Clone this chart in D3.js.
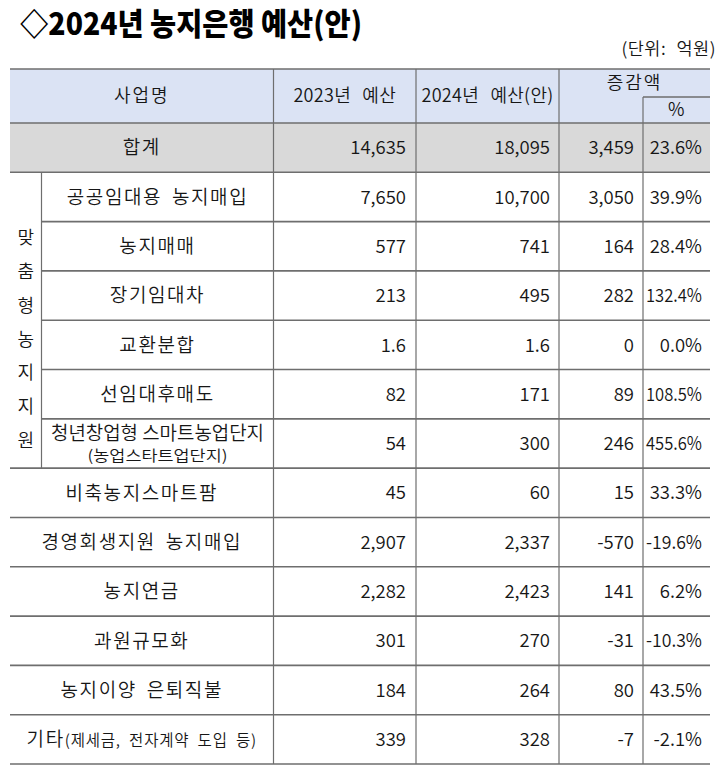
<!DOCTYPE html>
<html>
<head>
<meta charset="utf-8">
<script src="https://cdn.jsdelivr.net/npm/d3@7"></script>
<style>
  body { margin: 0; background: #fff; }
  svg { display: block; font-family: "Noto Sans CJK KR", "Noto Sans", sans-serif; }
</style>
</head>
<body>
<svg id="chart" width="720" height="778"></svg>
<script>
// table data
const title = "◇2024년 농지은행 예산(안)";
const unitLabel = "(단위: 억원)";
const headers = ["사업명", "2023년 예산", "2024년 예산(안)", "증감액", "%"];
const groupLabel = "맞춤형농지지원";

const names = ["합계", "공공임대용 농지매입", "농지매매", "장기임대차", "교환분합", "선임대후매도",
  "청년창업형 스마트농업단지", "비축농지스마트팜", "경영회생지원 농지매입", "농지연금",
  "과원규모화", "농지이양 은퇴직불", "기타"];
const nameNotes = ["", "", "", "", "", "", "(농업스타트업단지)", "", "", "", "", "", "(제세금, 전자계약 도입 등)"];
const inGroup = [false, true, true, true, true, true, true, false, false, false, false, false, false];

const budget2023 = [14635, 7650, 577, 213, 1.6, 82, 54, 45, 2907, 2282, 301, 184, 339];
const budget2024 = [18095, 10700, 741, 495, 1.6, 171, 300, 60, 2337, 2423, 270, 264, 328];
const change = [3459, 3050, 164, 282, 0, 89, 246, 15, -570, 141, -31, 80, -7];
const changePct = [23.6, 39.9, 28.4, 132.4, 0.0, 108.5, 455.6, 33.3, -19.6, 6.2, -10.3, 43.5, -2.1];

const svg = d3.select("#chart");
const ink = "#161616";
const lineColor = "#6e6e6e";
const light = 350;

const loc = d3.formatLocale({decimal: ".", thousands: ",", grouping: [3], currency: ["", ""], minus: "-"});
const numFmt = v => Number.isInteger(v) ? loc.format(",")(v) : loc.format(",.1f")(v);
const pctFmt = v => loc.format(".1f")(v) + "%";

// column edges and row bands
const col = d3.scaleOrdinal()
  .domain(["left", "group", "name", "y2023", "y2024", "chg", "right"])
  .range([10, 41.5, 273.5, 416, 559, 643, 710]);
const headTop = 69, headBottom = 123, pctTop = 97;
const y = d3.scaleBand()
  .domain(d3.range(names.length))
  .range([headBottom, 764]);
const bottom = y.range()[1];

// title
svg.append("text")
  .attr("x", 20).attr("y", 35)
  .attr("font-size", 31).attr("font-weight", 900)
  .attr("textLength", 342).attr("lengthAdjust", "spacingAndGlyphs")
  .attr("fill", "#000")
  .text(title);

svg.append("text")
  .attr("x", 716).attr("y", 55)
  .attr("text-anchor", "end")
  .attr("font-size", 17.5).attr("font-weight", light)
  .attr("word-spacing", 6).attr("letter-spacing", 0.5)
  .attr("fill", ink)
  .text(unitLabel);

// fills
svg.append("rect")
  .attr("x", col("left")).attr("y", headTop)
  .attr("width", col("right") - col("left")).attr("height", headBottom - headTop)
  .attr("fill", "#dbe3f4");
svg.append("rect")
  .attr("x", col("left")).attr("y", y(0))
  .attr("width", col("right") - col("left")).attr("height", y.bandwidth())
  .attr("fill", "#d9d9d9");

// horizontal rules
const hLines = [{x1: col("left"), y: headTop}, {x1: col("left"), y: headBottom}, {x1: col("chg"), y: pctTop}];
names.forEach((n, i) => {
  const inner = inGroup[i] && inGroup[i + 1];
  hLines.push({x1: inner ? col("group") : col("left"), y: y(i) + y.bandwidth()});
});
svg.append("g").selectAll("line")
  .data(hLines)
  .join("line")
  .attr("x1", d => d.x1).attr("x2", col("right"))
  .attr("y1", d => d.y).attr("y2", d => d.y)
  .attr("stroke", lineColor).attr("stroke-width", 1.6);

// vertical rules
const firstG = inGroup.indexOf(true), lastG = inGroup.lastIndexOf(true);
const vLines = [
  {x: col("name"), y1: headTop, y2: bottom},
  {x: col("y2023"), y1: headTop, y2: bottom},
  {x: col("y2024"), y1: headTop, y2: bottom},
  {x: col("chg"), y1: pctTop, y2: bottom},
  {x: col("group"), y1: y(firstG), y2: y(lastG) + y.bandwidth()}
];
svg.append("g").selectAll("line")
  .data(vLines)
  .join("line")
  .attr("x1", d => d.x).attr("x2", d => d.x)
  .attr("y1", d => d.y1).attr("y2", d => d.y2)
  .attr("stroke", lineColor).attr("stroke-width", 1.2);

// header text
const headMid = (headTop + headBottom) / 2;
const headPos = [
  {x: (col("left") + col("name")) / 2, y: headMid},
  {x: (col("name") + col("y2023")) / 2, y: headMid},
  {x: (col("y2023") + col("y2024")) / 2, y: headMid},
  {x: (col("y2024") + col("right")) / 2, y: (headTop + pctTop) / 2},
  {x: (col("chg") + col("right")) / 2, y: (pctTop + headBottom) / 2}
];
svg.append("g").selectAll("text")
  .data(headers)
  .join("text")
  .attr("x", (d, i) => headPos[i].x)
  .attr("y", (d, i) => headPos[i].y)
  .attr("dy", "0.36em")
  .attr("text-anchor", "middle")
  .attr("font-size", 18).attr("font-weight", light)
  .attr("letter-spacing", (d, i) => i === 0 || i === 3 ? 2 : 0.3)
  .attr("word-spacing", 7)
  .attr("fill", ink)
  .text(d => d);

// vertical group label
const gTop = y(firstG) + 65, gBottom = y(lastG) + 22;
const chars = Array.from(groupLabel);
const gy = d3.scalePoint().domain(d3.range(chars.length)).range([gTop, gBottom]);
svg.append("g").selectAll("text")
  .data(chars)
  .join("text")
  .attr("x", (col("left") + col("group")) / 2)
  .attr("y", (d, i) => gy(i))
  .attr("dy", "0.36em")
  .attr("text-anchor", "middle")
  .attr("font-size", 18).attr("font-weight", light)
  .attr("fill", ink)
  .text(d => d);

// row names
const rows = svg.append("g").selectAll("g")
  .data(names)
  .join("g")
  .attr("transform", (d, i) => `translate(0,${y(i) + y.bandwidth() / 2})`);

rows.each(function(d, i) {
  const g = d3.select(this);
  const cx = inGroup[i] ? (col("group") + col("name")) / 2 : (col("left") + col("name")) / 2;
  const note = nameNotes[i];
  if (note && inGroup[i]) {
    // two-line cell
    g.append("text")
      .attr("x", cx).attr("y", -10).attr("dy", "0.36em")
      .attr("text-anchor", "middle").attr("font-size", 19).attr("font-weight", light)
      .attr("textLength", 213).attr("lengthAdjust", "spacingAndGlyphs")
      .attr("fill", ink).text(d);
    g.append("text")
      .attr("x", cx).attr("y", 12).attr("dy", "0.36em")
      .attr("text-anchor", "middle").attr("font-size", 15).attr("font-weight", light)
      .attr("textLength", 140).attr("lengthAdjust", "spacingAndGlyphs")
      .attr("fill", ink).text(note);
  } else {
    const t = g.append("text")
      .attr("x", cx).attr("y", 0).attr("dy", "0.36em")
      .attr("text-anchor", "middle").attr("font-size", 19).attr("font-weight", light)
      .attr("letter-spacing", 1.6).attr("word-spacing", 4)
      .attr("fill", ink);
    t.append("tspan").text(d);
    if (note) t.append("tspan").attr("font-size", 15.5).attr("letter-spacing", 0.8).attr("word-spacing", 4).text(note);
  }
});

// numeric columns
const numCols = [
  {vals: budget2023, fmt: numFmt, right: col("y2023") - 10},
  {vals: budget2024, fmt: numFmt, right: col("y2024") - 9},
  {vals: change, fmt: numFmt, right: col("chg") - 9},
  {vals: changePct, fmt: pctFmt, right: col("right") - 8}
];
numCols.forEach(c => {
  rows.append("text")
    .attr("x", c.right).attr("y", 0).attr("dy", "0.36em")
    .attr("text-anchor", "end").attr("font-size", 18.5).attr("font-weight", light)
    .attr("fill", ink)
    .text((d, i) => c.fmt(c.vals[i]))
    .each(function() {
      // squeeze wide percentages into the narrow cell
      if (c.fmt === pctFmt && this.getComputedTextLength() > 56) {
        d3.select(this).attr("textLength", 56).attr("lengthAdjust", "spacingAndGlyphs");
      }
    });
});
</script>
</body>
</html>
